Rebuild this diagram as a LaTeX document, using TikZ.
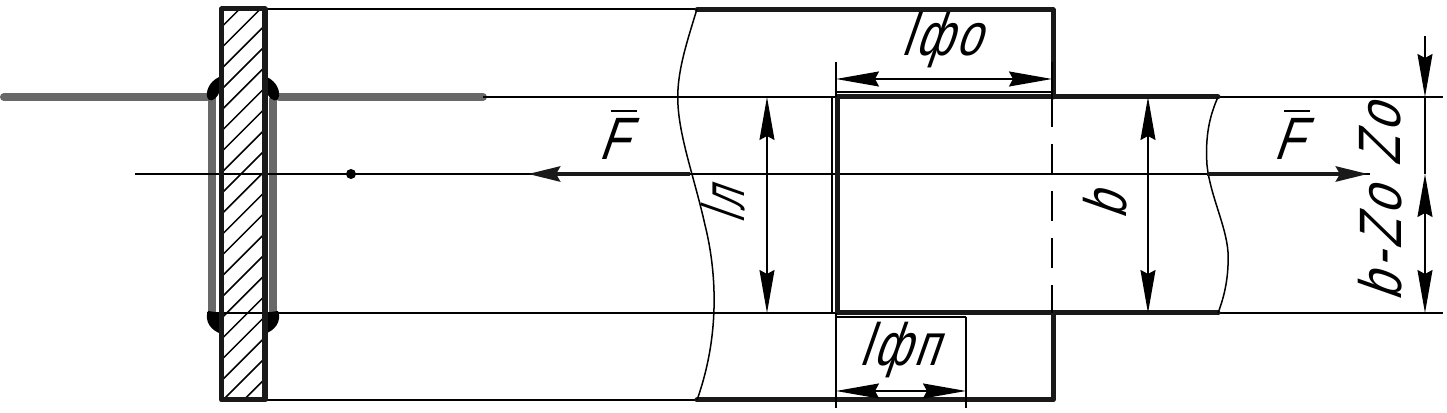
\documentclass[tikz,border=0pt]{standalone}
\usepackage{fontspec}
\setmainfont[FakeSlant=0.35,FakeStretch=0.75,LetterSpace=6]{Liberation Sans}
\newfontfamily\dimwide[FakeSlant=0.35,FakeStretch=0.8,LetterSpace=8]{Liberation Sans}
\newfontfamily\dimnarrow[FakeSlant=0.35,FakeStretch=0.6,LetterSpace=6]{Liberation Sans}
\usetikzlibrary{arrows.meta}

\definecolor{weldgrey}{RGB}{104,104,104}
\tikzset{
	dimtip/.tip={Stealth[length=43*0.2845pt, width=15*0.2845pt, inset=4*0.2845pt]},
	thinline/.style={line width=1.5*0.2845pt, black},
	thickline/.style={line width=5*0.2845pt, black!90, line cap=round, line join=round},
	weldline/.style={line width=8*0.2845pt, weldgrey, line cap=round, line join=round},
	dimline/.style={thinline, dimtip-dimtip},
	tipdown/.style={thinline, -dimtip},
	forcearrow/.style={line width=4.5*0.2845pt, black!90, -{Stealth[length=32*0.2845pt, width=15*0.2845pt, inset=4*0.2845pt]}},
	dimtext/.style={inner sep=0pt, font=\fontsize{17}{17}\selectfont},
	weldblob/.style={fill=black, draw=none},
}

\begin{document}
\begin{tikzpicture}[x=0.01cm, y=-0.01cm]
	\useasboundingbox (0,0) rectangle (1447,413);

	% plate hatching
	\begin{scope}
		\clip (221,9) rectangle (265,400);
		\foreach \c in {-10,...,17}
			\draw[thinline] (200,20.8*\c+111) -- (290,20.8*\c+21);
	\end{scope}

	% welds
	\draw[weldline] (4,97) -- (207,97);
	\draw[weldline] (279,97) -- (483,97);
	\draw[weldline] (212,99) -- (212,313);
	\draw[weldline] (273,99) -- (273,313);
	\fill[weldblob] (222,76) .. controls (212,79) and (206,88) .. (207,96) .. controls (208,103) and (215,101) .. (218,95) -- (222,86) -- cycle;
	\fill[weldblob] (264,76) .. controls (274,79) and (280,88) .. (279,96) .. controls (278,103) and (271,101) .. (268,95) -- (264,86) -- cycle;
	\fill[weldblob] (208,311) .. controls (204,321) and (211,331) .. (222,334) -- (222,313) -- cycle;
	\fill[weldblob] (278,311) .. controls (282,321) and (275,331) .. (264,334) -- (264,313) -- cycle;

	% thin outlines and centre line
	\draw[thinline] (265,9) -- (697,9);
	\draw[thinline] (265,400) -- (697,400);
	\draw[thinline] (483,97) -- (837,97);
	\draw[thinline] (207,313) -- (837,313);
	\draw[thinline] (135,174) -- (1370,174);
	\draw[thinline] (1218,97) -- (1443,97);
	\draw[thinline] (1218,313) -- (1443,313);
	\draw[thinline] (832,97) -- (832,313);
	\fill (351,174) circle (5);

	% plate
	\draw[thickline] (221.5,9) rectangle (265,400);

	% strip and cover plate
	\draw[thickline] (697,10) -- (1053,10) -- (1053,97);
	\draw[thickline] (697,400) -- (1053,400) -- (1053,313);
	\draw[thickline] (1218,97) -- (837,97) -- (837,313) -- (1218,313);
	\draw[thinline, dash pattern=on 30*0.2845pt off 17*0.2845pt] (1052,97) -- (1052,313);

	% break lines
	\draw[thinline] (697,9) .. controls (686,45) and (676,75) .. (678,105) .. controls (680,140) and (695,180) .. (705,225) .. controls (715,265) and (722,330) .. (697,400);
	\draw[thinline] (1218,97) .. controls (1210,115) and (1205,135) .. (1207,165) .. controls (1210,195) and (1226,225) .. (1228,252) .. controls (1229,275) and (1225,295) .. (1218,313);

	% extension lines
	\draw[thinline] (836,62) -- (836,97);
	\draw[thinline] (1052,62) -- (1052,97);
	\draw[thinline] (836,92) -- (1052,92);
	\draw[thinline] (836,313) -- (836,408);
	\draw[thinline] (966,317) -- (966,408);
	\draw[thinline] (836,317) -- (966,317);

	% dimensions
	\draw[dimline] (836,79) -- (1052,79);
	\draw[dimline] (836,391) -- (966,391);
	\draw[dimline] (767,97) -- (767,313);
	\draw[dimline] (1148,97) -- (1148,313);
	\draw[tipdown] (1425,36) -- (1425,97);
	\draw[dimline] (1425,174) -- (1425,313);
	\draw[thinline] (1425,97) -- (1425,174);

	% forces
	\draw[forcearrow] (690,174) -- (528,174);
	\draw[forcearrow] (1207,174) -- (1368,174);

	% labels
	\node[dimtext] (lfo) at (941,40) {lфо};
	\node[dimtext] (lfp) at (899,350) {lфп};
	\node[dimtext, rotate=90] (ll) at (723,207) {\dimnarrow lл};
	\node[dimtext, rotate=90] (bb) at (1105,207) {b};
	\node[dimtext, rotate=90, anchor=west] (zo) at (1380,167) {\dimwide Zo};
	\node[dimtext, rotate=90, anchor=west] (bzo) at (1380,302) {\dimwide b-Zo};
	\node[dimtext] (fleft) at (613,139) {\dimwide F};
	\node[dimtext] (fright) at (1288,139) {\dimwide F};
	\draw[thinline] (611,111) -- (637,111);
	\draw[thinline] (1284,111) -- (1310,111);
\end{tikzpicture}
\end{document}
